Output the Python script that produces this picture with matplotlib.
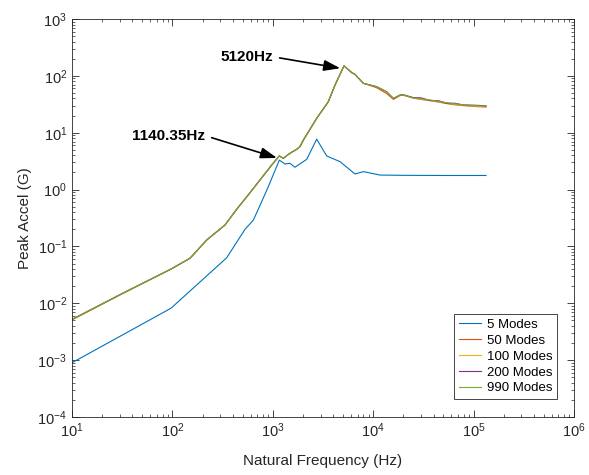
import matplotlib as mpl
mpl.use('agg')
import matplotlib.pyplot as plt
from matplotlib.ticker import LogLocator, NullFormatter

plt.rcParams['font.family'] = ['Liberation Sans', 'DejaVu Sans']

# frequency grid for the 50..990 mode curves (Hz)
freq_hi = [10, 31.5, 97, 150, 220, 334, 437, 593, 975, 1162, 1273, 1482, 1729, 1866,
           2014, 2738, 3570, 4170, 5120, 6110, 6590, 7980, 10800, 13600, 15900,
           18500, 20000, 25100, 30000, 36800, 45000, 54000, 65000, 79000, 100000, 133000]

acc_50 = [0.0051, 0.0146, 0.040, 0.062, 0.13, 0.238, 0.45, 0.88, 2.7, 3.9, 3.55, 4.35, 5.1, 5.7,
          7.4, 17.9, 35, 69, 150, 114, 106, 74, 62, 49, 38.5,
          45, 45.5, 40.5, 38.5, 36.5, 34.5, 32.5, 31.0, 30.0, 29.0, 28.3]
acc_100 = [0.0052, 0.0148, 0.040, 0.062, 0.13, 0.238, 0.45, 0.88, 2.7, 3.9, 3.55, 4.35, 5.1, 5.7,
           7.4, 17.9, 35, 69, 150, 114, 106, 74, 64.6, 52.7, 40,
           46, 46, 41, 39.0, 37.2, 35.0, 33.3, 31.8, 30.5, 29.5, 28.8]
acc_200 = [0.0052, 0.0148, 0.040, 0.062, 0.13, 0.238, 0.45, 0.88, 2.7, 3.9, 3.55, 4.35, 5.1, 5.7,
           7.4, 17.9, 35, 69, 150, 114, 106, 74, 64.6, 52.7, 40,
           46, 46.5, 41.5, 41.0, 37.0, 36.5, 33.0, 33.0, 30.8, 30.5, 29.8]
acc_990 = [0.0052, 0.0148, 0.040, 0.062, 0.13, 0.238, 0.45, 0.88, 2.7, 3.9, 3.55, 4.35, 5.1, 5.7,
           7.4, 17.9, 35, 69, 150, 114, 106, 74, 64.6, 52.7, 40,
           46, 46, 41, 39.5, 37.6, 35.5, 33.7, 32.2, 30.9, 30.0, 29.3]

# 5 mode curve
freq_5 = [10, 25.8, 97, 347, 529, 640, 717, 902, 1162, 1322, 1482, 1663, 2177, 2738,
          3443, 4670, 6590, 7980, 11700, 20000, 50000, 133000]
acc_5 = [0.0009, 0.00226, 0.0082, 0.063, 0.2, 0.29, 0.45, 1.12, 3.3, 2.82, 2.9, 2.47, 3.4, 7.7,
         3.9, 3.1, 1.88, 2.07, 1.80, 1.78, 1.77, 1.77]

labels = ['5 Modes', '50 Modes', '100 Modes', '200 Modes', '990 Modes']
colors = ['#0072BD', '#D95319', '#EDB120', '#7E2F8E', '#77AC30']

fig = plt.figure(figsize=(5.89, 4.75), dpi=100)
ax = fig.add_axes([0.1222, 0.1221, 0.8523, 0.8379])

ax.loglog(freq_5, acc_5, color=colors[0], lw=0.8, label=labels[0])
ax.loglog(freq_hi, acc_50, color=colors[1], lw=0.8, label=labels[1])
ax.loglog(freq_hi, acc_100, color=colors[2], lw=0.8, label=labels[2])
ax.loglog(freq_hi, acc_200, color=colors[3], lw=0.8, label=labels[3])
ax.loglog(freq_hi, acc_990, color=colors[4], lw=0.8, label=labels[4])

ax.set_xlim(10, 1e6)
ax.set_ylim(1e-4, 1e3)
ax.xaxis.set_major_locator(LogLocator(base=10, numticks=10))
ax.yaxis.set_major_locator(LogLocator(base=10, numticks=10))
ax.xaxis.set_minor_locator(LogLocator(base=10, subs=range(2, 10), numticks=20))
ax.yaxis.set_minor_locator(LogLocator(base=10, subs=range(2, 10), numticks=20))
ax.xaxis.set_minor_formatter(NullFormatter())
ax.yaxis.set_minor_formatter(NullFormatter())

dark = '#262626'
ax.tick_params(which='both', direction='in', top=True, right=True, colors=dark, labelsize=10.5)
ax.tick_params(which='major', length=5, width=0.6)
ax.tick_params(which='minor', length=2.5, width=0.5)
for s in ax.spines.values():
    s.set_color(dark)
    s.set_linewidth(0.6)

ax.set_xlabel('Natural Frequency (Hz)', fontsize=11, color=dark, labelpad=10)
ax.set_ylabel('Peak Accel (G)', fontsize=11, color=dark, labelpad=4)

arrow = dict(arrowstyle='-|>,head_length=0.9,head_width=0.3', color='black', lw=1.2,
             shrinkA=3, shrinkB=0)
ax.annotate('5120Hz', xy=(4700, 136), xytext=(998, 217), textcoords='data',
            ha='right', va='center', fontsize=11, fontweight='bold',
            arrowprops=dict(arrow, relpos=(1, 0.5)))
ax.annotate('1140.35Hz', xy=(1102, 3.6), xytext=(211, 8.9), textcoords='data',
            ha='right', va='center', fontsize=11, fontweight='bold',
            arrowprops=dict(arrow, relpos=(1, 0.5)))

leg = ax.legend(loc='lower right', bbox_to_anchor=(0.966, 0.045), borderaxespad=0,
                fontsize=9.5, fancybox=False, framealpha=1, edgecolor=dark,
                handlelength=1.7, labelspacing=0.28, handletextpad=0.4, borderpad=0.35)
leg.get_frame().set_linewidth(0.6)

plt.savefig('out.png', dpi=100)
